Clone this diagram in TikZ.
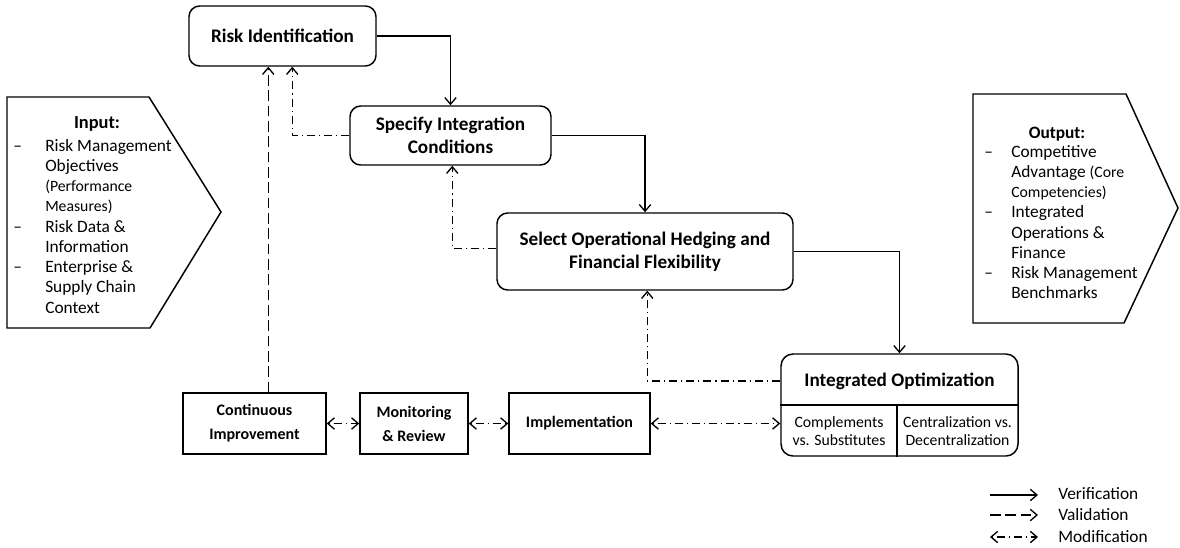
\documentclass[tikz,border=0pt]{standalone}
\usepackage{fontspec}
\setmainfont{Carlito}
\usetikzlibrary{arrows.meta,calc}
\begin{document}
\begin{tikzpicture}[x=0.75pt,y=-0.75pt,
  myv/.tip={Straight Barb[length=5pt,width=8.5pt,line width=1pt]},
  rbox/.style={draw, line width=1.1pt, rounded corners=8pt, align=center, inner sep=0pt, font=\fontsize{14.4}{17.5}\selectfont\bfseries},
  sbox/.style={draw, line width=1.1pt, align=center, inner sep=0pt, font=\fontsize{12}{18}\selectfont\bfseries},
  subtxt/.style={align=center, inner sep=0pt, font=\fontsize{11.8}{13.5}\selectfont},
  verif/.style={line width=1pt, -myv},
  valid/.style={line width=1pt, -myv, dash pattern=on 8pt off 3.5pt},
  modif/.style={line width=1pt, -myv, dash pattern=on 6pt off 3pt on 0.9pt off 3pt},
  bimodif/.style={line width=1pt, myv-myv, dash pattern=on 0.9pt off 3pt on 6pt off 3pt},
  legtxt/.style={anchor=west, inner sep=0pt, font=\fontsize{13}{15}\selectfont},
  listtxt/.style={anchor=base west, inner sep=0pt, font=\fontsize{13}{15.2}\selectfont},
  pent/.style={draw, line width=1.1pt, line join=miter}
]
\useasboundingbox (0,0) rectangle (1180,547);

% Input / Output pentagons
\draw[pent] (7,97) -- (149,97) -- (221,212) -- (150,328) -- (7,328) -- cycle;
\draw[pent] (973,94) -- (1126,94) -- (1178,208) -- (1124,323) -- (973,323) -- cycle;

\node[anchor=base, inner sep=0pt, font=\fontsize{13.8}{16}\selectfont\bfseries] (intitle) at (97,128) {Input:};
\node[listtxt] (inlist) at (13,151) {\begin{tabular}[t]{@{}p{24pt}@{}l@{}}
–& Risk Management\\
 & Objectives\\
 & {\fontsize{11.8}{15.2}\selectfont(Performance}\\
 & {\fontsize{11.8}{15.2}\selectfont Measures)}\\
–& Risk Data \&\\
 & Information\\
–& Enterprise \&\\
 & Supply Chain\\
 & Context
\end{tabular}};

\node[anchor=base, inner sep=0pt, font=\fontsize{13}{16}\selectfont\bfseries] (outtitle) at (1057,138) {Output:};
\node[listtxt] (outlist) at (984,157) {\begin{tabular}[t]{@{}p{20.25pt}@{}l@{}}
–& Competitive\\
 & Advantage {\fontsize{11.8}{15.2}\selectfont(Core}\\
 & {\fontsize{11.8}{15.2}\selectfont Competencies)}\\
–& Integrated\\
 & Operations \&\\
 & Finance\\
–& Risk Management\\
 & Benchmarks
\end{tabular}};

% Main boxes
\node[rbox, minimum width=140.25pt, minimum height=45pt] (ri) at (282.5,36) {Risk Identification};
\node[rbox, minimum width=150.75pt, minimum height=44.25pt] (sic) at (450.5,135.5) {Specify Integration\\Conditions};
\node[rbox, minimum width=222pt, minimum height=57.75pt] (sel) at (645,251.5) {Select Operational Hedging and\\Financial Flexibility};
\node[draw, line width=1.1pt, rounded corners=9pt, minimum width=177.75pt, minimum height=76.5pt, inner sep=0pt] (io) at (899.5,405) {};
\node[inner sep=0pt, font=\fontsize{14.4}{17.5}\selectfont\bfseries] (iot) at (899.5,381) {Integrated Optimization};
\coordinate (iodiv) at (897,405);
\draw[line width=1.1pt] (io.west) -- (io.east);
\draw[line width=1.1pt] (iodiv) -- (iodiv |- io.south);
\node[subtxt] (iol) at (839,431) {Complements\\vs. Substitutes};
\node[subtxt] (ior) at (957.5,431) {Centralization vs.\\Decentralization};

\node[sbox, minimum width=107.25pt, minimum height=45.75pt] (ci) at (254.5,423.5) {Continuous\\Improvement};
\node[sbox, minimum width=81pt, minimum height=45.75pt] (mr) at (414,423.5) {Monitoring\\\& Review};
\node[sbox, minimum width=105.75pt, minimum height=45.75pt] (imp) at (579.5,423.5) {Implementation};

% Verification
\draw[verif] (ri.east) -| (sic.north);
\draw[verif] (sic.east) -| (sel.north);
\draw[verif] (sel.east) -| (io.north);

% Modification feedback
\draw[modif] (sic.west) -| ($(ri.south west)+(104,0)$);
\draw[modif] ($(sel.west)+(0,-3)$) -| ($(sic.south west)+(103,0)$);
\draw[modif] (io.west |- iot) -| ($(sel.south west)+(151,0)$);

% Validation
\draw[valid] ($(ci.north west)+(86,0)$) -- ($(ri.south west)+(80,0)$);

% Bottom bidirectional
\draw[bimodif] (ci.east) -- (mr.west);
\draw[bimodif] (mr.east) -- (imp.west);
\draw[bimodif] (imp.east) -- (imp.east -| io.west);

% Legend
\coordinate (l1a) at (990,495); \coordinate (l1b) at (1038,495);
\coordinate (l2a) at (990,515); \coordinate (l2b) at (1038,515);
\coordinate (l3a) at (990,537); \coordinate (l3b) at (1038,537);
\draw[verif] (l1a) -- (l1b);
\draw[valid] (l2a) -- (l2b);
\draw[bimodif] (l3a) -- (l3b);
\node[legtxt] (lt1) at (1058,494) {Verification};
\node[legtxt] (lt2) at (1058,515) {Validation};
\node[legtxt] (lt3) at (1058,537) {Modification};
\end{tikzpicture}
\end{document}
